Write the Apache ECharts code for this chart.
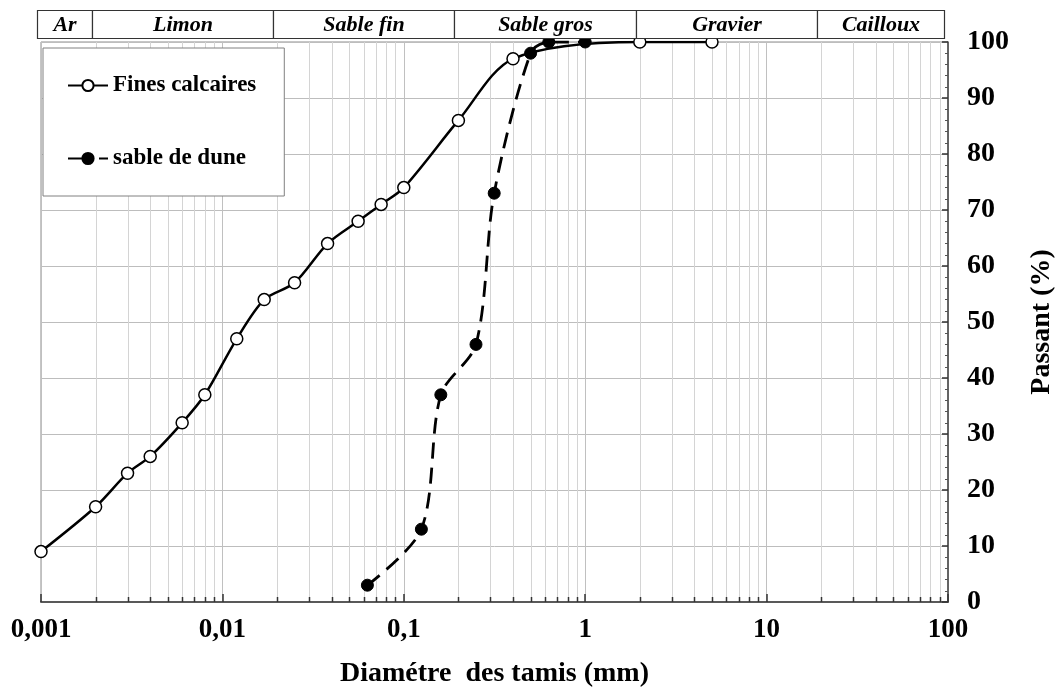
<!DOCTYPE html>
<html>
<head>
<meta charset="utf-8">
<script src="https://cdn.jsdelivr.net/npm/echarts@6/dist/echarts.min.js"></script>
<style>
  html, body { margin: 0; padding: 0; background: #ffffff; }
  #chart { width: 1061px; height: 695px; }
</style>
</head>
<body>
<div id="chart"></div>
<script>
// Grain-size curves: sieve diameter (mm) vs. percent passing
const finesDiam = [0.001, 0.002, 0.003, 0.004, 0.006, 0.008, 0.012, 0.017, 0.025, 0.038, 0.056, 0.075, 0.1, 0.2, 0.4, 2, 5];
const finesPass = [9, 17, 23, 26, 32, 37, 47, 54, 57, 64, 68, 71, 74, 86, 97, 100, 100];

const duneDiam = [0.063, 0.125, 0.16, 0.25, 0.315, 0.5, 0.63, 1];
const dunePass = [3, 13, 37, 46, 73, 98, 100, 100];

// Axis tick labels (one per decade, French decimal comma)
const xTickLabels = ['0,001', '0,01', '0,1', '1', '10', '100'];

// Soil classes along the top, with their diameter limits (mm)
const bandNames = ['Ar', 'Limon', 'Sable fin', 'Sable gros', 'Gravier', 'Cailloux'];
const bandEdges = [0.001, 0.002, 0.02, 0.2, 2, 20, 100];

// Minor log gridlines (2..9 in every decade)
const minorX = [];
for (let d = -3; d < 2; d++) {
  for (let m = 2; m <= 9; m++) minorX.push([m * Math.pow(10, d), 0]);
}

const serif = "'Liberation Serif', 'Times New Roman', serif";
const chart = echarts.init(document.getElementById('chart'), null, { renderer: 'canvas' });

const snap = v => Math.round(v) + 0.5;

chart.setOption({
  animation: false,
  backgroundColor: '#ffffff',
  grid: {
    left: 41, right: 113, top: 42, bottom: 93,
    outerBoundsMode: 'none',
    containLabel: false,
    show: true, borderColor: '#8c8c8c', borderWidth: 1
  },
  legend: {
    data: [
      { name: 'Fines calcaires' },
      { name: 'sable de dune', lineStyle: { type: [17, 14] } }
    ],
    orient: 'vertical',
    left: 43, top: 48,
    padding: [26, 28, 26, 24],
    itemGap: 50,
    itemWidth: 40, itemHeight: 14,
    backgroundColor: '#ffffff',
    borderColor: '#808080', borderWidth: 1,
    textStyle: { fontFamily: serif, fontWeight: 'bold', fontSize: 23, color: '#000' }
  },
  xAxis: {
    type: 'log', logBase: 10, min: 0.001, max: 100,
    name: 'Diamétre  des tamis (mm)',
    nameLocation: 'middle', nameGap: 58,
    nameTextStyle: { fontFamily: serif, fontWeight: 'bold', fontSize: 28, color: '#000' },
    axisLine: { show: true, lineStyle: { color: '#595959', width: 2 } },
    axisTick: { show: true, inside: true, length: 8, lineStyle: { color: '#333', width: 1.5 } },
    axisLabel: {
      margin: 15, fontFamily: serif, fontWeight: 'bold', fontSize: 27, color: '#000',
      formatter: v => xTickLabels[Math.round(Math.log10(v)) + 3]
    },
    splitLine: { show: true, lineStyle: { color: '#c0c0c0', width: 1 } }
  },
  yAxis: {
    type: 'value', position: 'right', min: 0, max: 100, interval: 10,
    name: 'Passant (%)',
    nameLocation: 'middle', nameRotate: 90, nameGap: 80,
    nameTextStyle: { fontFamily: serif, fontWeight: 'bold', fontSize: 28, color: '#000' },
    axisLine: { show: true, lineStyle: { color: '#444', width: 1.5 } },
    axisTick: { show: true, inside: true, length: 6, lineStyle: { color: '#333', width: 1.5 } },
    minorTick: { show: true, splitNumber: 5, length: 3, lineStyle: { color: '#555', width: 1 } },
    axisLabel: { margin: 19, fontFamily: serif, fontWeight: 'bold', fontSize: 28, color: '#000' },
    splitLine: { show: true, lineStyle: { color: '#bdbdbd', width: 1 } }
  },
  series: [
    {
      name: 'minor-grid',
      type: 'custom',
      silent: true,
      z: 1,
      data: minorX,
      renderItem: (params, api) => {
        const x = api.value(0);
        const b = api.coord([x, 0]);
        const t = api.coord([x, 100]);
        const px = snap(b[0]);
        return {
          type: 'group',
          children: [
            { type: 'line', shape: { x1: px, y1: b[1], x2: px, y2: t[1] },
              style: { stroke: '#d4d4d4', lineWidth: 1 } },
            { type: 'line', shape: { x1: px, y1: b[1], x2: px, y2: b[1] - 5 },
              style: { stroke: '#333', lineWidth: 1.5 } }
          ]
        };
      }
    },
    {
      name: 'Fines calcaires',
      type: 'line',
      z: 3,
      smooth: 0.3,
      data: finesDiam.map((d, i) => [d, finesPass[i]]),
      symbol: 'circle', symbolSize: 12,
      itemStyle: { color: '#ffffff', borderColor: '#000', borderWidth: 1.5 },
      lineStyle: { color: '#000', width: 2.5 }
    },
    {
      name: 'sable de dune',
      type: 'line',
      z: 4,
      smooth: 0.3,
      data: duneDiam.map((d, i) => [d, dunePass[i]]),
      symbol: 'circle', symbolSize: 12,
      itemStyle: { color: '#000', borderColor: '#000', borderWidth: 1 },
      lineStyle: { color: '#000', width: 2.8, type: [16, 9] }
    }
  ]
});

// Soil-class header boxes, placed from the diameter limits on the x scale
const bandShift = -4;
const bandTop = 10, bandBottom = 38;
const bandGraphics = [];
for (let i = 0; i < bandNames.length; i++) {
  const x0 = snap(chart.convertToPixel({ xAxisIndex: 0 }, bandEdges[i]) + bandShift);
  const x1 = snap(chart.convertToPixel({ xAxisIndex: 0 }, bandEdges[i + 1]) + bandShift);
  bandGraphics.push({
    type: 'rect',
    shape: { x: x0, y: bandTop + 0.5, width: x1 - x0, height: bandBottom - bandTop },
    style: { fill: '#ffffff', stroke: '#333', lineWidth: 1.2 },
    z: 10
  });
  bandGraphics.push({
    type: 'text',
    x: (x0 + x1) / 2, y: (bandTop + bandBottom) / 2 + 1,
    style: {
      text: bandNames[i], align: 'center', verticalAlign: 'middle',
      font: "italic bold 22px 'Liberation Serif', serif", fill: '#000'
    },
    z: 11
  });
}
chart.setOption({ graphic: bandGraphics });
</script>
</body>
</html>
